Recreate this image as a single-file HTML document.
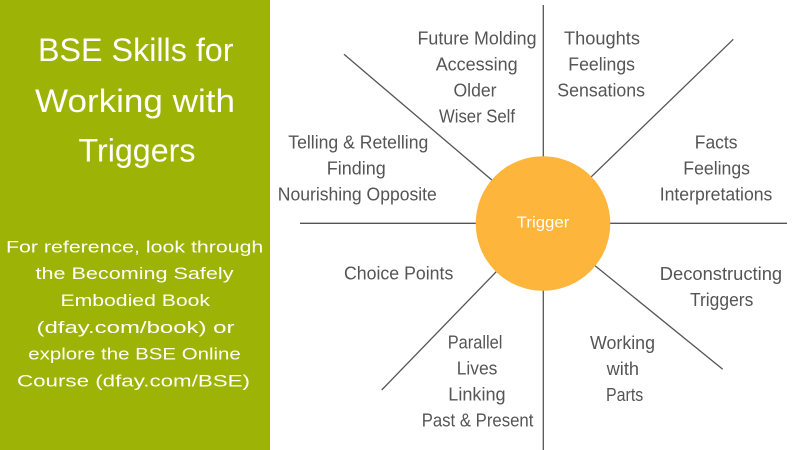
<!DOCTYPE html>
<html>
<head>
<meta charset="utf-8">
<style>
  html, body { margin:0; padding:0; background:#ffffff; }
  body { width:800px; height:450px; overflow:hidden; }
  svg { display:block; }
  .lbl { font-family:"Liberation Sans", sans-serif; font-size:18px; fill:#555555; }
  .ttl { font-family:"Liberation Sans", sans-serif; font-size:32px; fill:#ffffff; }
  .body { font-family:"Liberation Sans", sans-serif; font-size:17px; fill:#ffffff; }
</style>
</head>
<body>
<svg width="800" height="450" viewBox="0 0 800 450" xmlns="http://www.w3.org/2000/svg">
  <rect x="0" y="0" width="800" height="450" fill="#ffffff"/>
  <rect x="0" y="0" width="270" height="450" fill="#9db305"/>

  <!-- Left panel title -->
  <text class="ttl" x="38" y="61" textLength="195.5" lengthAdjust="spacingAndGlyphs">BSE Skills for</text>
  <text class="ttl" x="35" y="112" textLength="200" lengthAdjust="spacingAndGlyphs">Working with</text>
  <text class="ttl" x="78.5" y="161.5" textLength="117" lengthAdjust="spacingAndGlyphs">Triggers</text>

  <!-- Left panel body -->
  <text class="body" x="6" y="252.3" textLength="257.3" lengthAdjust="spacingAndGlyphs">For reference, look through</text>
  <text class="body" x="35.5" y="278.8" textLength="198" lengthAdjust="spacingAndGlyphs">the Becoming Safely</text>
  <text class="body" x="60.5" y="306" textLength="149.5" lengthAdjust="spacingAndGlyphs">Embodied Book</text>
  <text class="body" x="36.5" y="333" textLength="198" lengthAdjust="spacingAndGlyphs">(dfay.com/book) or</text>
  <text class="body" x="28.3" y="359.5" textLength="212.5" lengthAdjust="spacingAndGlyphs">explore the BSE Online</text>
  <text class="body" x="17" y="386.7" textLength="233" lengthAdjust="spacingAndGlyphs">Course (dfay.com/BSE)</text>

  <!-- Spokes -->
  <g stroke="#555555" stroke-width="1.3" fill="none">
    <line x1="543.3" y1="5" x2="543.3" y2="450"/>
    <line x1="300" y1="223.3" x2="787" y2="223.3"/>
    <line x1="344" y1="54.3" x2="543" y2="223.5"/>
    <line x1="733.3" y1="39.3" x2="543" y2="223.5"/>
    <line x1="722.7" y1="369.3" x2="543" y2="223.5"/>
    <line x1="381.7" y1="390" x2="543" y2="223.5"/>
  </g>

  <!-- Center circle -->
  <circle cx="543" cy="223.5" r="67.3" fill="#fdb53b"/>
  <text x="516.7" y="227.7" font-family="Liberation Sans, sans-serif" font-size="16" fill="#ffffff" textLength="52.7" lengthAdjust="spacingAndGlyphs">Trigger</text>

  <!-- Upper-left top group -->
  <text class="lbl" x="417.5" y="44.5" textLength="119" lengthAdjust="spacingAndGlyphs">Future Molding</text>
  <text class="lbl" x="435.7" y="70.7" textLength="82" lengthAdjust="spacingAndGlyphs">Accessing</text>
  <text class="lbl" x="453.5" y="96.7" textLength="43" lengthAdjust="spacingAndGlyphs">Older</text>
  <text class="lbl" x="439" y="122.7" textLength="76" lengthAdjust="spacingAndGlyphs">Wiser Self</text>

  <!-- Left group -->
  <text class="lbl" x="288.3" y="148.3" textLength="140" lengthAdjust="spacingAndGlyphs">Telling &amp; Retelling</text>
  <text class="lbl" x="326.8" y="174.7" textLength="59" lengthAdjust="spacingAndGlyphs">Finding</text>
  <text class="lbl" x="277.8" y="200.7" textLength="159" lengthAdjust="spacingAndGlyphs">Nourishing Opposite</text>

  <!-- Upper-right top group -->
  <text class="lbl" x="564" y="44.3" textLength="76" lengthAdjust="spacingAndGlyphs">Thoughts</text>
  <text class="lbl" x="568.3" y="70.5" textLength="66.7" lengthAdjust="spacingAndGlyphs">Feelings</text>
  <text class="lbl" x="557.3" y="96.7" textLength="87.7" lengthAdjust="spacingAndGlyphs">Sensations</text>

  <!-- Right group -->
  <text class="lbl" x="694.8" y="148.3" textLength="42.7" lengthAdjust="spacingAndGlyphs">Facts</text>
  <text class="lbl" x="683.3" y="174.7" textLength="66.7" lengthAdjust="spacingAndGlyphs">Feelings</text>
  <text class="lbl" x="659.7" y="200.7" textLength="112.7" lengthAdjust="spacingAndGlyphs">Interpretations</text>

  <!-- Lower-left -->
  <text class="lbl" x="344" y="279.3" textLength="109.3" lengthAdjust="spacingAndGlyphs">Choice Points</text>

  <!-- Lower-right -->
  <text class="lbl" x="659.8" y="280" textLength="122.3" lengthAdjust="spacingAndGlyphs">Deconstructing</text>
  <text class="lbl" x="690" y="305.8" textLength="63.3" lengthAdjust="spacingAndGlyphs">Triggers</text>

  <!-- Bottom-left group -->
  <text class="lbl" x="447.7" y="348.5" textLength="54.7" lengthAdjust="spacingAndGlyphs">Parallel</text>
  <text class="lbl" x="456.7" y="374.5" textLength="40.7" lengthAdjust="spacingAndGlyphs">Lives</text>
  <text class="lbl" x="448.3" y="400.7" textLength="57.3" lengthAdjust="spacingAndGlyphs">Linking</text>
  <text class="lbl" x="421.7" y="426.7" textLength="111.7" lengthAdjust="spacingAndGlyphs">Past &amp; Present</text>

  <!-- Bottom-right group -->
  <text class="lbl" x="590" y="349" textLength="65" lengthAdjust="spacingAndGlyphs">Working</text>
  <text class="lbl" x="606.7" y="375" textLength="32.3" lengthAdjust="spacingAndGlyphs">with</text>
  <text class="lbl" x="606" y="401" textLength="37.3" lengthAdjust="spacingAndGlyphs">Parts</text>
</svg>
</body>
</html>
